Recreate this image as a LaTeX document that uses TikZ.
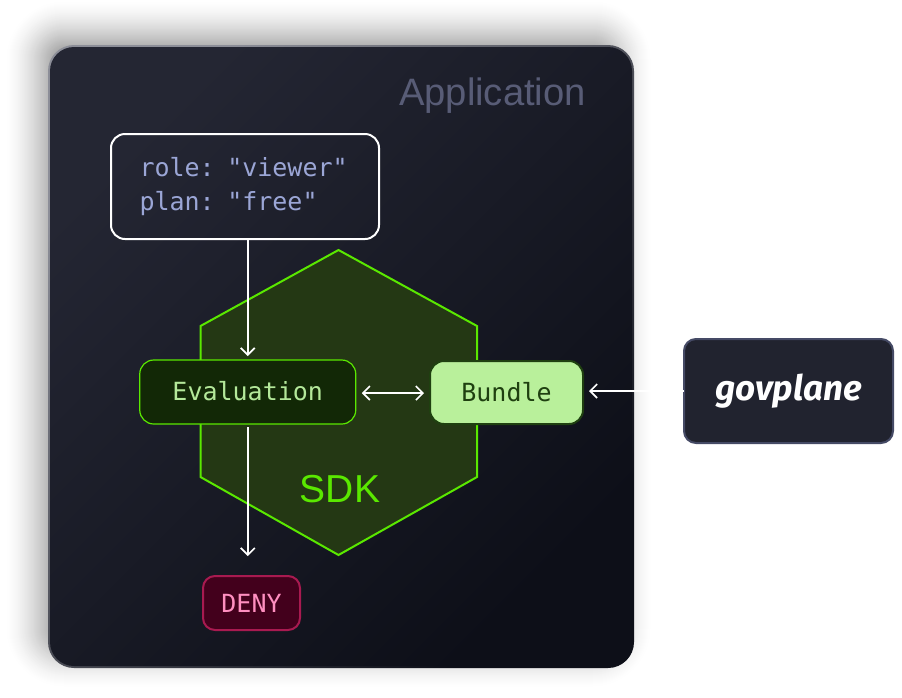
\documentclass[tikz,border=0pt]{standalone}
\usepackage{fontspec}
\setmainfont{Liberation Sans}
\setmonofont{DejaVu Sans Mono}
\newfontfamily\logofont{Fira Sans}
\usetikzlibrary{arrows.meta}
\definecolor{AppTop}{RGB}{36,38,51}
\definecolor{AppMid}{RGB}{27,29,40}
\definecolor{AppLow}{RGB}{13,15,24}
\definecolor{AppEdge}{RGB}{140,142,152}
\definecolor{AppText}{RGB}{88,92,118}
\definecolor{QueryText}{RGB}{155,166,214}
\definecolor{SdkFill}{RGB}{36,56,20}
\definecolor{SdkLine}{RGB}{90,232,0}
\definecolor{EvalFill}{RGB}{18,40,6}
\definecolor{EvalText}{RGB}{180,232,154}
\definecolor{BundleFill}{RGB}{185,240,155}
\definecolor{BundleLine}{RGB}{31,64,16}
\definecolor{GovFill}{RGB}{33,35,47}
\definecolor{GovEdge}{RGB}{69,74,101}
\definecolor{DenyFill}{RGB}{67,0,28}
\definecolor{DenyLine}{RGB}{168,26,80}
\definecolor{DenyText}{RGB}{255,143,192}
\tikzset{
  codetext/.style={font=\ttfamily\fontsize{25}{34}\selectfont},
  box/.style={codetext,rounded corners=14pt,outer sep=0pt,inner sep=0pt},
  query/.style={box,draw=white,line width=2pt,text=QueryText,
                minimum height=105pt,text width=211pt,inner xsep=28.5pt,align=left},
  evalbox/.style={box,draw=SdkLine,line width=1.2pt,fill=EvalFill,text=EvalText,
                  minimum width=216pt,minimum height=64pt,text depth=3pt},
  bundlebox/.style={box,draw=BundleLine,line width=2pt,fill=BundleFill,text=BundleLine,
                    minimum width=153pt,minimum height=63pt,text depth=2pt},
  denybox/.style={box,rounded corners=12pt,draw=DenyLine,line width=2pt,fill=DenyFill,
                  text=DenyText,minimum width=97pt,minimum height=54pt},
  govbox/.style={rounded corners=12pt,outer sep=0pt,draw=GovEdge,line width=2pt,fill=GovFill,
                 text=white,minimum width=209pt,minimum height=104pt,
                 font=\logofont\bfseries\itshape\fontsize{35}{35}\selectfont},
  flow/.style={-{Straight Barb[length=7pt,width=14pt]},line width=1.6pt,white},
  flowtwo/.style={{Straight Barb[length=7pt,width=14pt]}-{Straight Barb[length=7pt,width=14pt]},
                  line width=1.6pt,white},
}
\begin{document}
\begin{tikzpicture}[x=1pt,y=-1pt]
  \useasboundingbox (0,0) rectangle (902,697);
  \foreach \u in {1,...,50}{
    \pgfmathsetmacro{\pct}{28*(\u/43)^1.5}
    \pgfmathsetmacro{\rad}{60-\u}
    \fill[black!\pct,rounded corners=\rad pt]
      (5+\u,0+\u) rectangle (652-\u,688-\u);
  }
  \node[rounded corners=26pt,minimum width=586pt,minimum height=623pt,outer sep=0pt,
        top color=AppEdge,middle color=AppTop,bottom color=AppLow,shading angle=45] (edge) at (341,356.5) {};
  \node[rounded corners=24pt,minimum width=582pt,minimum height=619pt,outer sep=0pt,
        top color=AppTop,middle color=AppMid,bottom color=AppLow,shading angle=45] (app) at (341,356.5) {};
  \node[text=AppText,font=\fontsize{38.2}{38}\selectfont] (apptitle) at (492.5,96) {Application};

  \draw[SdkLine,fill=SdkFill,line width=2pt,line join=miter]
    (338.5,250) -- (477,326) -- (477,477) -- (338.5,555) -- (200.5,477) -- (200.5,326) -- cycle;
  \node[text=SdkLine,font=\fontsize{39}{39}\selectfont] (sdk) at (340,489) {SDK};

  \node[query] (attrs) at (245,186.5) {role: "viewer"\\plan: "free"};
  \node[evalbox] (eval) at (247.75,392) {Evaluation};
  \node[bundlebox] (bundle) at (506.5,392.5) {Bundle};
  \node[denybox] (deny) at (251.5,603) {DENY};
  \node[govbox] (gov) at (788.5,391) {govplane};

  \draw[flow,shorten >=4pt] (attrs.south -| eval.north) -- (eval.north);
  \draw[flow,shorten <=3pt,shorten >=20pt] (eval.south) -- (eval.south |- deny.north);
  \draw[flowtwo,shorten <=6pt,shorten >=6pt] (eval.east |- 0,393) -- (bundle.west |- 0,393);
  \draw[flow,shorten >=6pt] (gov.west) -- (bundle.east |- gov.west);
\end{tikzpicture}
\end{document}
